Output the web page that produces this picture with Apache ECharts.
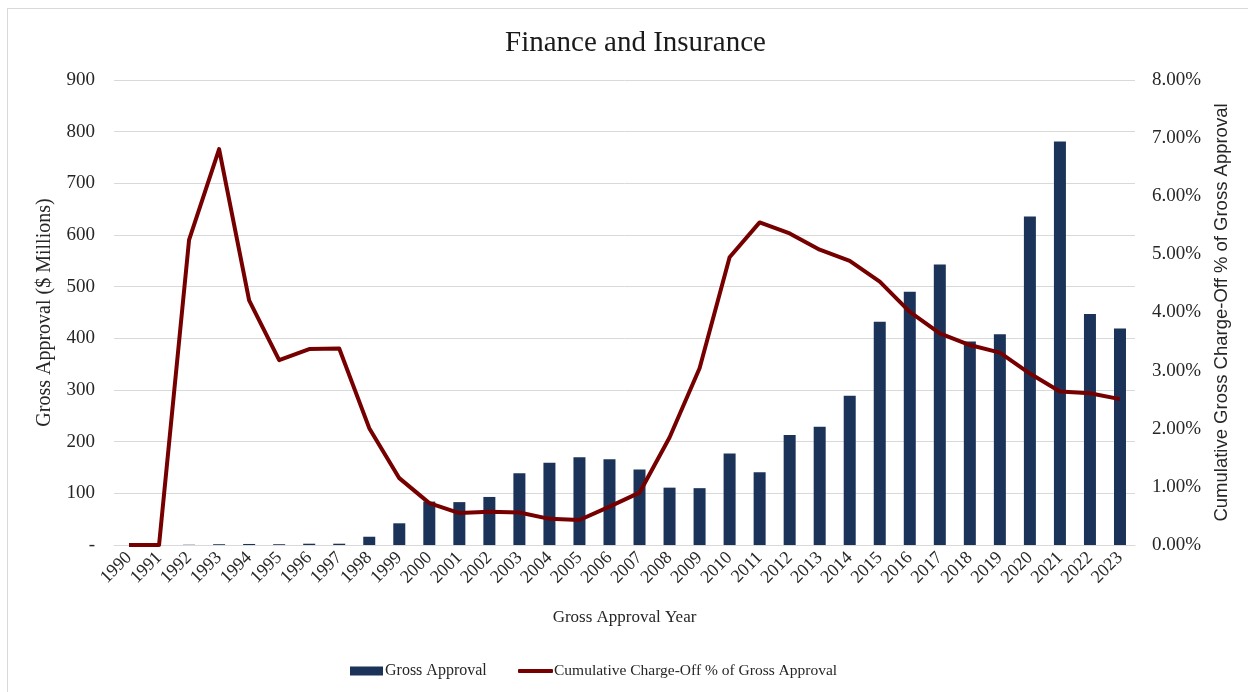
<!DOCTYPE html>
<html>
<head>
<meta charset="utf-8">
<title>Finance and Insurance</title>
<script src="https://cdn.jsdelivr.net/npm/echarts@6/dist/echarts.min.js"></script>
<style>
  html, body { margin: 0; padding: 0; background: #fff; }
  #frame { position: absolute; left: 7px; top: 8px; width: 1260px; height: 700px;
           border-left: 1px solid #d9d9d9; border-top: 1px solid #d9d9d9; }
  #chart { position: absolute; left: 0; top: 0; width: 1248px; height: 692px; }
</style>
</head>
<body>
<div id="frame"></div>
<div id="chart"></div>
<script>
// categories
var years = ['1990','1991','1992','1993','1994','1995','1996','1997','1998','1999',
  '2000','2001','2002','2003','2004','2005','2006','2007','2008','2009',
  '2010','2011','2012','2013','2014','2015','2016','2017','2018','2019',
  '2020','2021','2022','2023'];

// gross approval, $ millions (left axis)
var grossApproval = [0, 0, 0.5, 1.5, 2, 1.5, 2.5, 2.5, 16, 42,
  84, 83, 93, 139, 159, 170, 166, 146, 111, 110,
  177, 141, 213, 229, 289, 432, 490, 543, 394, 408,
  636, 781, 447, 419];

// cumulative charge-off % of gross approval (right axis)
var chargeOffPct = [0, 0, 5.25, 6.81, 4.21, 3.18, 3.37, 3.38, 2.01, 1.15,
  0.72, 0.55, 0.57, 0.56, 0.45, 0.43, 0.66, 0.90, 1.85, 3.04,
  4.95, 5.55, 5.36, 5.08, 4.89, 4.53, 4.01, 3.64, 3.44, 3.31,
  2.95, 2.64, 2.61, 2.51];

var serif = 'Liberation Serif';
var textColor = '#262626';
var barColor = '#1c3359';
var lineColor = '#760000';

var chart = echarts.init(document.getElementById('chart'));
chart.setOption({
  animation: false,
  title: {
    text: 'Finance and Insurance',
    left: 500,
    top: 24,
    textStyle: { fontFamily: serif, fontSize: 29, fontWeight: 'normal', color: '#1a1a1a' }
  },
  // two legends so the bar and line keys can have their own heights
  legend: [
    {
      left: 345,
      top: 658,
      itemWidth: 33,
      itemHeight: 9,
      textStyle: { fontFamily: serif, fontSize: 16, color: textColor, padding: [0, 0, 0, -3] },
      data: [{ name: 'Gross Approval', icon: 'rect' }]
    },
    {
      left: 513,
      top: 658,
      itemWidth: 35,
      itemHeight: 4,
      textStyle: { fontFamily: serif, fontSize: 15.5, color: textColor, padding: [0, 0, 0, -4] },
      data: [{ name: 'Cumulative Charge-Off % of Gross Approval', icon: 'roundRect' }]
    }
  ],
  grid: { left: 114, right: 113, top: 80, bottom: 147 },
  xAxis: {
    type: 'category',
    data: years,
    name: 'Gross Approval Year',
    nameLocation: 'middle',
    nameGap: 64,
    nameTextStyle: { fontFamily: serif, fontSize: 17, color: textColor },
    axisLine: { lineStyle: { color: '#d9d9d9' } },
    axisTick: { show: false },
    axisLabel: { interval: 0, rotate: 45, margin: 10, fontFamily: serif, fontSize: 18, color: textColor }
  },
  yAxis: [
    {
      type: 'value',
      min: 0,
      max: 900,
      interval: 100,
      name: 'Gross Approval ($ Millions)',
      nameLocation: 'middle',
      nameGap: 59,
      nameTextStyle: { fontFamily: serif, fontSize: 20, color: textColor },
      axisLine: { show: false },
      axisTick: { show: false },
      splitLine: { lineStyle: { color: '#d9d9d9', width: 1 } },
      axisLabel: {
        margin: 19,
        fontFamily: serif, fontSize: 19, color: textColor,
        formatter: function (v) { return v === 0 ? '-' : v; }
      }
    },
    {
      type: 'value',
      min: 0,
      max: 8,
      interval: 1,
      name: 'Cumulative Gross Charge-Off % of Gross Approval',
      nameLocation: 'middle',
      nameGap: 77,
      nameTextStyle: { fontFamily: 'Liberation Sans', fontSize: 18.5, color: textColor },
      axisLine: { show: false },
      axisTick: { show: false },
      splitLine: { show: false },
      axisLabel: {
        margin: 17,
        fontFamily: serif, fontSize: 19, color: textColor,
        formatter: function (v) { return v.toFixed(2) + '%'; }
      }
    }
  ],
  series: [
    {
      name: 'Gross Approval',
      type: 'bar',
      yAxisIndex: 0,
      barWidth: 12,
      itemStyle: { color: barColor },
      data: grossApproval
    },
    {
      name: 'Cumulative Charge-Off % of Gross Approval',
      type: 'line',
      yAxisIndex: 1,
      showSymbol: false,
      symbol: 'none',
      lineStyle: { color: lineColor, width: 4, join: 'round' },
      itemStyle: { color: lineColor },
      data: chargeOffPct
    }
  ]
});
</script>
</body>
</html>
